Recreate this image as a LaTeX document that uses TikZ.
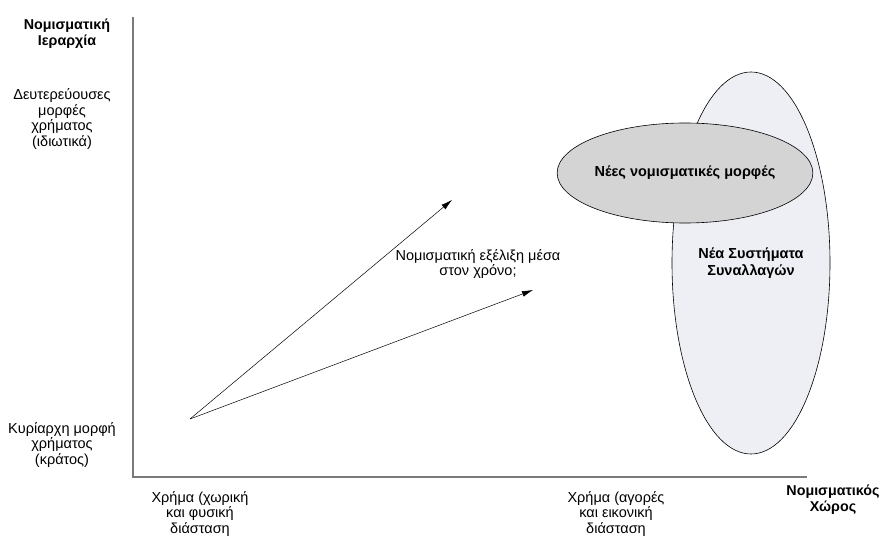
\documentclass[tikz,border=0pt]{standalone}
\usepackage{fontspec}
\setmainfont{Liberation Sans}
\usetikzlibrary{arrows.meta,positioning,shapes.geometric}
\definecolor{Axis}{HTML}{7A7A7A}
\definecolor{SysFill}{HTML}{EDEFF5}
\definecolor{FormFill}{HTML}{D4D4D4}
\tikzset{txt/.style={align=center,font=\fontsize{14.5}{15.8}\selectfont,inner sep=0pt},head/.style={txt,font=\fontsize{14.3}{16}\selectfont\bfseries},axis/.style={line width=1.3pt,draw=Axis},flow/.style={-{Latex[length=11pt,width=6pt]},line width=.5pt},blob/.style={ellipse,draw,line width=.6pt,inner sep=0pt,align=center,font=\fontsize{14.5}{16.5}\selectfont\bfseries}}

\begin{document}
\begin{tikzpicture}[x=1pt,y=-1pt]
        \useasboundingbox (0,0) rectangle (883,537);
        \coordinate (ytop) at (133,17);
        \coordinate (orig) at (133,477);
        \coordinate (xend) at (807,477);
        \draw[axis] (ytop) -- (orig) -- (xend);
        \node[head] (hier) at (67,34) {Νομισματική\\Ιεραρχία};
        \node[txt] (second) at (62,119) {Δευτερεύουσες\\μορφές\\χρήματος\\(ιδιωτικά)};
        \node[txt] (main) at (62,445) {Κυρίαρχη μορφή\\χρήματος\\(κράτος)};
        \node[txt] (phys) at (200,514) {Χρήμα (χωρική\\και φυσική\\διάσταση};
        \node[txt] (virt) at (616,514) {Χρήμα (αγορές\\και εικονική\\διάσταση};
        \node[head] (space) at (833,500) {Νομισματικός\\Χώρος};
        \node[blob,fill=SysFill,minimum width=158pt,minimum height=382pt] (systems) at (751,263) {Νέα Συστήματα\\Συναλλαγών};
        \node[blob,fill=FormFill,minimum width=230pt,minimum height=100pt] (forms) at (685,173) {Νέες νομισματικές μορφές};
        \node[txt] (evol) at (478,264) {Νομισματική εξέλιξη μέσα\\στον χρόνο;};
        \coordinate (start) at (190,419);
        \coordinate (tipA) at (452,200);
        \coordinate (tipB) at (533,290);
        \draw[flow] (start) -- (tipA);
        \draw[flow] (start) -- (tipB);
      \end{tikzpicture}
\end{document}
